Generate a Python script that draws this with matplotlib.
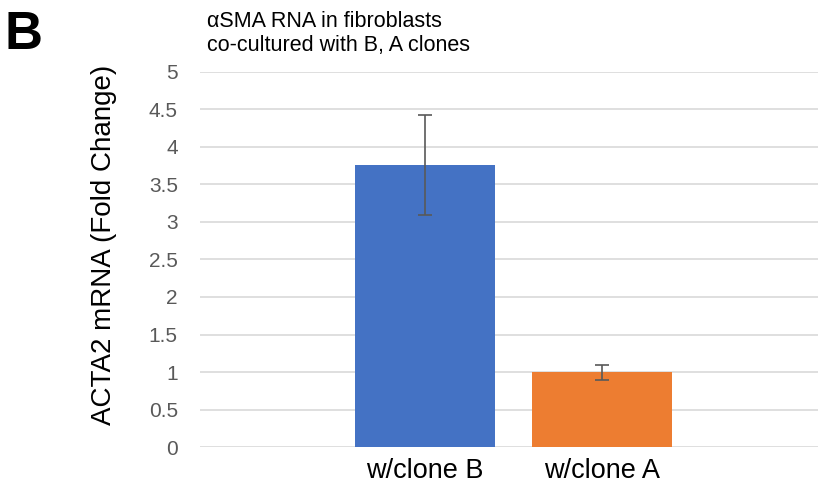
import matplotlib.pyplot as plt

plt.rcParams['font.family'] = ['Liberation Sans', 'DejaVu Sans']

groups = ['w/clone B', 'w/clone A']
fold_change = [3.76, 1.00]
err = [0.67, 0.10]
colors = ['#4472C4', '#ED7D31']
yticks = [0, 0.5, 1, 1.5, 2, 2.5, 3, 3.5, 4, 4.5, 5]

fig = plt.figure(figsize=(8.2, 4.83), dpi=100)
ax = fig.add_axes([0.244, 0.0745, 0.754, 0.7765])

x = range(len(groups))
ax.bar(x, fold_change, width=0.79, color=colors, zorder=2)
ax.errorbar(x, fold_change, yerr=err, fmt='none', ecolor='#595959',
            elinewidth=1.2, capsize=5, capthick=1.2, zorder=3)

ax.set_xlim(-1.27, 2.22)
ax.set_ylim(0, 5)
ax.set_yticks(yticks)
ax.set_yticklabels([f'{t:g}' for t in yticks])
ax.set_xticks(list(x))
ax.set_xticklabels(groups, fontsize=19.5, color='black')
ax.tick_params(axis='y', labelsize=15, labelcolor='#595959', length=0, pad=16)
ax.tick_params(axis='x', length=0, pad=8)
ax.grid(axis='y', color='#d9d9d9', linewidth=1.2, zorder=0)
for s in ax.spines.values():
    s.set_visible(False)

ax.set_ylabel('ACTA2 mRNA (Fold Change)', fontsize=20)
ax.yaxis.set_label_coords(-0.135, 0.54)

fig.text(0.253, 0.978, '\u03b1SMA RNA in fibroblasts\nco-cultured with B, A clones',
         fontsize=15.5, va='top', ha='left', linespacing=1.2)
fig.text(0.005, 0.98, 'B', fontsize=38, fontweight='bold', va='top', ha='left')

fig.savefig('out.png', dpi=100)
